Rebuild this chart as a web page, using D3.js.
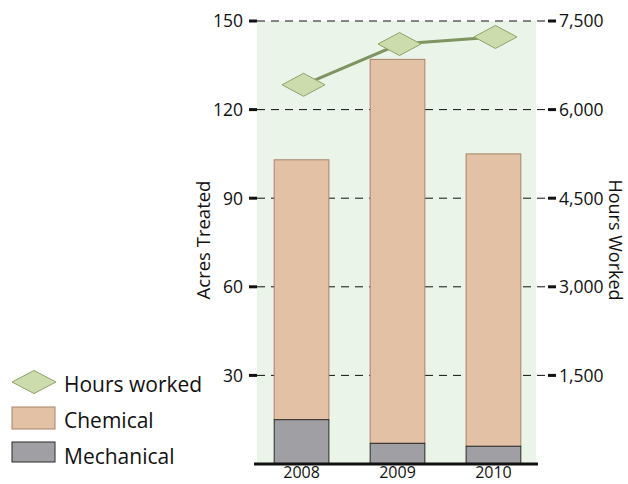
<!DOCTYPE html>
<html>
<head>
<meta charset="utf-8">
<script src="https://cdn.jsdelivr.net/npm/d3@7"></script>
<style>
body { margin: 0; background: #fff; }
text { font-family: "Open Sans", "Noto Sans", sans-serif; fill: #111; }
</style>
</head>
<body>
<div id="chart"></div>
<script>
var years = ["2008", "2009", "2010"];
var mechanical = [15, 7, 6];
var chemical = [88, 130, 99];
var hoursWorked = [6420, 7110, 7230];
var acreTicks = [30, 60, 90, 120, 150];
var hourTicks = [1500, 3000, 4500, 6000, 7500];

var width = 628,
    height = 484;

var svg = d3.select("#chart")
            .append("svg")
            .attr("width", width)
            .attr("height", height);

var plot = {left: 257, right: 536, top: 21, bottom: 464};

var x = d3.scaleBand().domain(years).range([255, 540]).paddingInner(0.43).paddingOuter(0.2);
var y = d3.scaleLinear().domain([0, 150]).range([plot.bottom, plot.top]);
var yHours = d3.scaleLinear().domain([0, 7500]).range([plot.bottom, plot.top]);

/* background */
svg.append("rect")
    .attr("x", plot.left)
    .attr("y", plot.top)
    .attr("width", plot.right - plot.left)
    .attr("height", plot.bottom - plot.top)
    .attr("fill", "#eaf4e8");

/* gridlines */
svg.append("g")
    .selectAll("line")
    .data(acreTicks)
    .enter().append("line")
        .attr("x1", plot.left)
        .attr("x2", 549)
        .attr("y1", function(d) { return y(d); })
        .attr("y2", function(d) { return y(d); })
        .attr("stroke", "#111")
        .attr("stroke-width", 1)
        .attr("stroke-dasharray", "8,6");

/* stacked bars */
var stacked = years.map(function(yr, i) {
    return { year: yr, mech: mechanical[i], chem: chemical[i] };
});

svg.append("g")
    .selectAll("rect")
    .data(stacked)
    .enter().append("rect")
        .attr("x", function(d) { return x(d.year); })
        .attr("y", function(d) { return y(d.mech + d.chem); })
        .attr("width", x.bandwidth())
        .attr("height", function(d) { return y(d.mech) - y(d.mech + d.chem); })
        .attr("fill", "#e2c1a4")
        .attr("stroke", "#a8826c")
        .attr("stroke-width", 1);

svg.append("g")
    .selectAll("rect")
    .data(stacked)
    .enter().append("rect")
        .attr("x", function(d) { return x(d.year); })
        .attr("y", function(d) { return y(d.mech); })
        .attr("width", x.bandwidth())
        .attr("height", function(d) { return y(0) - y(d.mech); })
        .attr("fill", "#a0a0a4")
        .attr("stroke", "#2a2a2a")
        .attr("stroke-width", 1);

/* hours line */
var pts = years.map(function(yr, i) {
    return [x(yr) + x.bandwidth() / 2 + 2, yHours(hoursWorked[i])];
});

svg.append("path")
    .attr("d", d3.line()(pts))
    .attr("fill", "none")
    .attr("stroke", "#7e9461")
    .attr("stroke-width", 3);

var diamond = function(cx, cy, w, h) {
    return "M" + (cx - w / 2) + "," + cy + "L" + cx + "," + (cy - h / 2) +
           "L" + (cx + w / 2) + "," + cy + "L" + cx + "," + (cy + h / 2) + "Z";
};

svg.append("g")
    .selectAll("path")
    .data(pts)
    .enter().append("path")
        .attr("d", function(d) { return diamond(d[0], d[1], 43, 23); })
        .attr("fill", "#cddcad")
        .attr("stroke", "#8ea36a")
        .attr("stroke-width", 1);

/* left axis */
var left = svg.append("g");
left.selectAll("line")
    .data(acreTicks)
    .enter().append("line")
        .attr("x1", 249)
        .attr("x2", 257)
        .attr("y1", function(d) { return y(d); })
        .attr("y2", function(d) { return y(d); })
        .attr("stroke", "#111")
        .attr("stroke-width", 3);
left.selectAll("text")
    .data(acreTicks)
    .enter().append("text")
        .attr("x", 243)
        .attr("y", function(d) { return y(d); })
        .attr("dy", "0.36em")
        .attr("text-anchor", "end")
        .attr("font-size", 17.5)
        .text(function(d) { return d; });

/* right axis */
var right = svg.append("g");
right.selectAll("line")
    .data(hourTicks)
    .enter().append("line")
        .attr("x1", 548)
        .attr("x2", 556)
        .attr("y1", function(d) { return yHours(d); })
        .attr("y2", function(d) { return yHours(d); })
        .attr("stroke", "#111")
        .attr("stroke-width", 3);
right.selectAll("text")
    .data(hourTicks)
    .enter().append("text")
        .attr("x", 559)
        .attr("y", function(d) { return yHours(d); })
        .attr("dy", "0.36em")
        .attr("font-size", 17.5)
        .text(function(d) { return d3.format(",")(d); });

/* baseline */
svg.append("line")
    .attr("x1", 254)
    .attr("x2", 538)
    .attr("y1", plot.bottom)
    .attr("y2", plot.bottom)
    .attr("stroke", "#111")
    .attr("stroke-width", 3);

/* x labels */
svg.append("g")
    .selectAll("text")
    .data(years)
    .enter().append("text")
        .attr("x", function(d) { return x(d) + x.bandwidth() / 2; })
        .attr("y", 478)
        .attr("text-anchor", "middle")
        .attr("font-size", 16)
        .text(function(d) { return d; });

/* axis titles */
svg.append("text")
    .attr("transform", "translate(210,240) rotate(-90)")
    .attr("text-anchor", "middle")
    .attr("font-size", 18.5)
    .text("Acres Treated");

svg.append("text")
    .attr("transform", "translate(609,240) rotate(90)")
    .attr("text-anchor", "middle")
    .attr("font-size", 18)
    .text("Hours Worked");

/* legend */
var lg = svg.append("g");
lg.append("path")
    .attr("d", diamond(34, 382, 44, 23))
    .attr("fill", "#cddcad")
    .attr("stroke", "#8ea36a");
lg.append("rect")
    .attr("x", 12).attr("y", 407).attr("width", 43).attr("height", 22)
    .attr("fill", "#e2c1a4").attr("stroke", "#a8826c");
lg.append("rect")
    .attr("x", 12).attr("y", 442).attr("width", 43).attr("height", 20)
    .attr("fill", "#a0a0a4").attr("stroke", "#2a2a2a");

var legendText = ["Hours worked", "Chemical", "Mechanical"];
lg.selectAll("text")
    .data(legendText)
    .enter().append("text")
        .attr("x", 64)
        .attr("y", function(d, i) { return 392 + i * 36; })
        .attr("font-size", 21)
        .text(function(d) { return d; });
</script>
</body>
</html>
